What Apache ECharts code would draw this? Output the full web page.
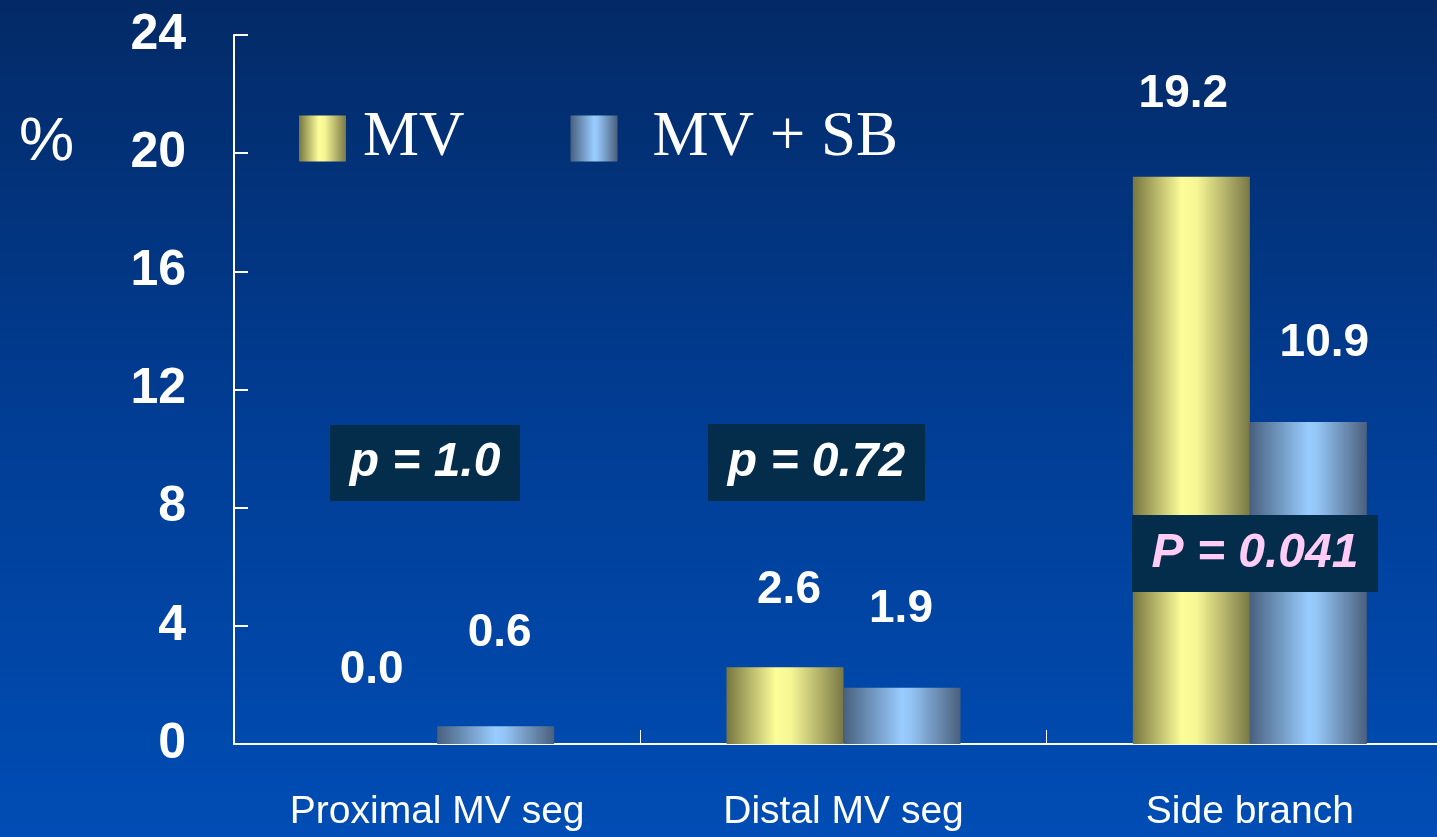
<!DOCTYPE html>
<html>
<head>
<meta charset="utf-8">
<title>Restenosis by segment</title>
<script src="https://cdn.jsdelivr.net/npm/echarts@6/dist/echarts.min.js"></script>
<style>
  html, body { margin: 0; padding: 0; width: 100%; height: 100%; overflow: hidden; }
  /* the plot runs a little past the right edge of the window */
  #chart { width: 1453px; height: 837px; }
</style>
</head>
<body>
<div id="chart"></div>
<script>
// Segments compared
const categories = ['Proximal MV seg', 'Distal MV seg', 'Side branch'];
// Series names
const seriesNames = ['MV', 'MV + SB'];
// Rates (%) per segment
const mvValues = [0.0, 2.6, 19.2];
const mvSbValues = [0.6, 1.9, 10.9];
// Y axis range and step
const yMin = 0;
const yMax = 24;
const yStep = 4;
// p-values per segment
const pLabels = ['p = 1.0', 'p = 0.72', 'P = 0.041'];

const SANS = '"Liberation Sans", Arial, sans-serif';
const SERIF = '"Liberation Serif", "Times New Roman", serif';

function hGrad(stops) {
  return new echarts.graphic.LinearGradient(0, 0, 1, 0,
    stops.map(s => ({ offset: s[0], color: s[1] })));
}
const yellowFill = hGrad([[0, '#77763f'], [0.42, '#fdfd99'], [0.55, '#f6f695'], [1, '#797846']]);
const blueFill = hGrad([[0, '#48607e'], [0.5, '#99ccff'], [0.58, '#94c4f4'], [1, '#4a5f7c']]);

// small per-label nudges [dx, dy] so the numbers sit where they were typed
const labelNudge = [
  [[-7, 5], [4, 2], [-8, -3]],
  [[4, -14], [-1, 0], [16, 0]]
];

function barData(values, si) {
  return values.map((v, ci) => ({
    value: v,
    label: { offset: labelNudge[si][ci] }
  }));
}

const valueLabel = {
  show: true,
  position: 'top',
  distance: 56,
  color: '#ffffff',
  fontFamily: SANS,
  fontWeight: 'bold',
  fontSize: 46,
  formatter: p => Number(p.value).toFixed(1)
};

const chart = echarts.init(document.getElementById('chart'), null, { renderer: 'canvas' });

// p-value boxes, placed over each segment
const pBoxes = [
  { x: 330, y: 425, w: 190, h: 76, color: '#ffffff' },
  { x: 708, y: 424, w: 217, h: 77, color: '#ffffff' },
  { x: 1132, y: 515, w: 246, h: 77, color: '#ffccf6' }
];

const graphics = [
  {
    type: 'text', left: 19, top: 112, z: 100,
    style: { text: '%', fill: '#ffffff', font: '62px ' + SANS }
  }
];
pBoxes.forEach((b, i) => {
  graphics.push({
    type: 'group', left: b.x, top: b.y, z: 100,
    children: [
      { type: 'rect', z: 100, shape: { x: 0, y: 0, width: b.w, height: b.h }, style: { fill: '#032d4a' } },
      {
        type: 'text', z: 101, x: b.w / 2, y: b.h / 2,
        style: {
          text: pLabels[i], fill: b.color, align: 'center', verticalAlign: 'middle',
          font: 'italic bold 48px ' + SANS
        }
      }
    ]
  });
});

chart.setOption({
  backgroundColor: new echarts.graphic.LinearGradient(0, 0, 0, 1, [
    { offset: 0, color: '#032a66' },
    { offset: 0.5, color: '#013d94' },
    { offset: 1, color: '#004db5' }
  ]),
  animation: false,
  legend: {
    left: 294, top: 102,
    icon: 'rect',
    itemWidth: 47, itemHeight: 46,
    itemGap: 106,
    data: [
      { name: seriesNames[0], textStyle: { padding: [0, 0, 0, 12] } },
      { name: seriesNames[1], textStyle: { padding: [0, 0, 0, 30] } }
    ],
    textStyle: { color: '#ffffff', fontFamily: SERIF, fontSize: 63 }
  },
  grid: { left: 234, top: 35, right: 0, bottom: 93, containLabel: false },
  xAxis: {
    type: 'category',
    data: categories,
    axisLine: { lineStyle: { color: '#ffffff', width: 2 } },
    axisTick: { show: true, inside: true, length: 14, lineStyle: { color: '#ffffff', width: 1 } },
    axisLabel: { interval: 0, color: '#ffffff', fontFamily: SANS, fontSize: 39, margin: 49 },
    splitLine: { show: false }
  },
  yAxis: {
    type: 'value',
    min: yMin, max: yMax, interval: yStep,
    axisLine: { show: true, lineStyle: { color: '#ffffff', width: 2 } },
    axisTick: { show: true, inside: true, length: 14, lineStyle: { color: '#ffffff', width: 2 } },
    axisLabel: { color: '#ffffff', fontFamily: SANS, fontWeight: 'bold', fontSize: 50, margin: 48 },
    splitLine: { show: false }
  },
  series: [
    {
      name: seriesNames[0], type: 'bar', barWidth: 117, barGap: '0%',
      itemStyle: { color: yellowFill },
      label: valueLabel,
      data: barData(mvValues, 0)
    },
    {
      name: seriesNames[1], type: 'bar', barWidth: 117, barGap: '0%',
      itemStyle: { color: blueFill },
      label: valueLabel,
      data: barData(mvSbValues, 1)
    }
  ],
  graphic: graphics
});
</script>
</body>
</html>
